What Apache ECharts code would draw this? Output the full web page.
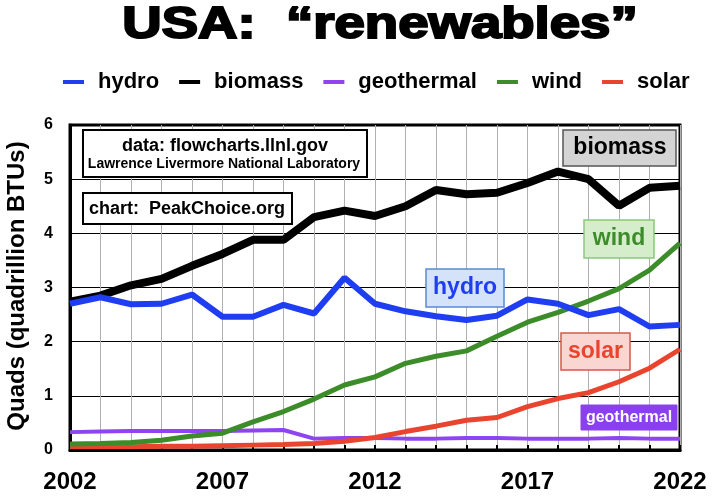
<!DOCTYPE html>
<html>
<head>
<meta charset="utf-8">
<script src="https://cdn.jsdelivr.net/npm/echarts@6/dist/echarts.min.js"></script>
<style>
html,body{margin:0;padding:0;background:#fff;}
#c{width:714px;height:497px;}
</style>
</head>
<body>
<div id="c"></div>
<script>
const years = ['2002','2003','2004','2005','2006','2007','2008','2009','2010','2011','2012','2013','2014','2015','2016','2017','2018','2019','2020','2021','2022'];
const hydro = [2.70, 2.82, 2.69, 2.70, 2.87, 2.46, 2.46, 2.68, 2.52, 3.18, 2.70, 2.56, 2.47, 2.40, 2.48, 2.78, 2.70, 2.49, 2.60, 2.28, 2.31];
const biomass = [2.74, 2.85, 3.04, 3.16, 3.40, 3.62, 3.88, 3.88, 4.30, 4.42, 4.32, 4.50, 4.80, 4.72, 4.75, 4.93, 5.14, 5.00, 4.51, 4.84, 4.88];
const geothermal = [0.33, 0.34, 0.35, 0.35, 0.35, 0.35, 0.36, 0.37, 0.21, 0.22, 0.22, 0.21, 0.21, 0.22, 0.22, 0.21, 0.21, 0.21, 0.22, 0.21, 0.21];
const wind = [0.11, 0.12, 0.14, 0.18, 0.26, 0.31, 0.52, 0.71, 0.94, 1.20, 1.35, 1.60, 1.73, 1.83, 2.10, 2.36, 2.54, 2.75, 2.98, 3.32, 3.82];
const solar = [0.06, 0.06, 0.06, 0.07, 0.07, 0.08, 0.09, 0.10, 0.12, 0.16, 0.23, 0.34, 0.44, 0.55, 0.60, 0.80, 0.95, 1.06, 1.26, 1.51, 1.86];
const xTickLabels = ['2002','2007','2012','2017','2022'];

const FONT = '"Liberation Sans", Arial, sans-serif';
const C = {hydro:'#1f3ef2', biomass:'#000000', geothermal:'#8e44f0', wind:'#3d8c2a', solar:'#e8442e'};

function box(x1,y1,x2,y2,fill,stroke,lw){
  return {type:'rect', shape:{x:x1,y:y1,width:x2-x1,height:y2-y1}, style:{fill:fill, stroke:stroke, lineWidth:lw}, z:10};
}
function label(x,y,text,size,color){
  return {type:'text', x:x, y:y, style:{text:text, fontSize:size, fontWeight:'bold', fontFamily:FONT, fill:color, align:'center', verticalAlign:'middle'}, z:11};
}

const chart = echarts.init(document.getElementById('c'));
chart.setOption({
  backgroundColor:'#fff',
  animation:false,
  grid:{left:70, right:34, top:125, bottom:47, show:true, borderColor:'#000', borderWidth:3, backgroundColor:'transparent'},
  legend:{
    left:58, top:66, icon:'rect', itemWidth:21, itemHeight:4, itemGap:20,
    textStyle:{fontSize:22, fontWeight:'bold', fontFamily:FONT, color:'#000', padding:[0,0,0,9]},
    data:['hydro','biomass','geothermal','wind','solar']
  },
  xAxis:{
    type:'category', data:years, boundaryGap:false,
    axisLine:{lineStyle:{color:'#000', width:3}},
    axisTick:{show:true, inside:true, length:5, interval:0, lineStyle:{color:'#000', width:2}},
    axisLabel:{interval:0, margin:20, fontSize:24, fontWeight:'bold', fontFamily:FONT, color:'#000',
      formatter:function(v){ return xTickLabels.indexOf(v) >= 0 ? v : ''; }},
    splitLine:{show:true, interval:0, lineStyle:{color:'#b0b0b0', width:1}}
  },
  yAxis:{
    type:'value', min:0, max:6, interval:1,
    axisLine:{show:true, lineStyle:{color:'#000', width:3}},
    axisTick:{show:false},
    axisLabel:{margin:17, fontSize:16, fontWeight:'bold', fontFamily:FONT, color:'#000'},
    splitLine:{show:true, lineStyle:{color:'#000', width:1.2}}
  },
  series:[
    {name:'hydro', type:'line', data:hydro, showSymbol:false, symbol:'none', z:6, lineStyle:{color:C.hydro, width:6}, itemStyle:{color:C.hydro}},
    {name:'biomass', type:'line', data:biomass, showSymbol:false, symbol:'none', z:5, lineStyle:{color:C.biomass, width:8}, itemStyle:{color:C.biomass}},
    {name:'geothermal', type:'line', data:geothermal, showSymbol:false, symbol:'none', z:2, lineStyle:{color:C.geothermal, width:4}, itemStyle:{color:C.geothermal}},
    {name:'wind', type:'line', data:wind, showSymbol:false, symbol:'none', z:4, lineStyle:{color:C.wind, width:5}, itemStyle:{color:C.wind}},
    {name:'solar', type:'line', data:solar, showSymbol:false, symbol:'none', z:3, lineStyle:{color:C.solar, width:5}, itemStyle:{color:C.solar}}
  ],
  graphic:[
    {type:'text', x:380, y:26, scaleX:1.24, scaleY:1.0,
      style:{text:'USA:  \u201crenewables\u201d', fontSize:44, fontWeight:'bold', fontFamily:FONT, fill:'#000', stroke:'#000', lineWidth:2, align:'center', verticalAlign:'middle'}},
    {type:'text', x:17, y:286, rotation:Math.PI/2,
      style:{text:'Quads (quadrillion BTUs)', fontSize:24, fontWeight:'bold', fontFamily:FONT, fill:'#000', align:'center', verticalAlign:'middle'}},
    box(83,130,367,177,'#fff','#000',2),
    label(225,146,'data: flowcharts.llnl.gov',18,'#000'),
    label(224,164,'Lawrence Livermore National Laboratory',14,'#000'),
    box(83,193,292,224,'#fff','#000',2),
    label(187,209,'chart:  PeakChoice.org',18,'#000'),
    box(563,130,676,166,'#d4d4d4','#555',1.5),
    label(620,148,'biomass',23,'#000'),
    box(584,220,654,258,'#d6edcc','#8bc97a',1.5),
    label(619,239,'wind',23,C.wind),
    box(426,269,504,307,'#d4e2fa','#5a8ccf',1.5),
    label(465,288,'hydro',23,C.hydro),
    box(561,333,630,370,'#f9d6d1','#d65a4b',1.5),
    label(595.5,352,'solar',23,C.solar),
    box(581,405,677,430,'#8a40f0','#8a40f0',1),
    label(629,418,'geothermal',16,'#fff')
  ]
});
</script>
</body>
</html>
